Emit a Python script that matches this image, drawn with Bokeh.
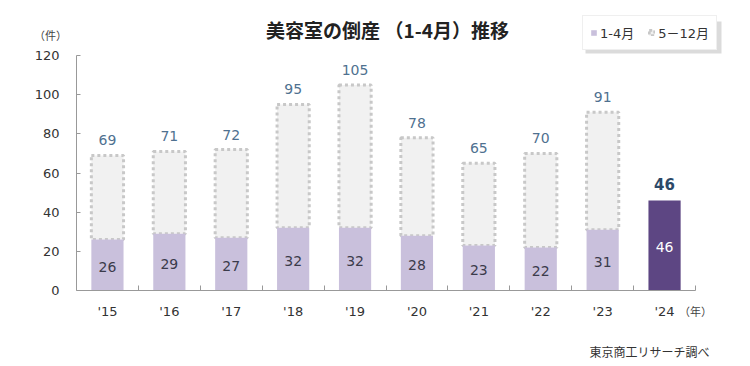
from bokeh.plotting import figure
from bokeh.models import (ColumnDataSource, LabelSet, Label, FixedTicker, Legend, LegendItem,
                          BoxAnnotation)
from bokeh.core.properties import value
from bokeh.embed import file_html
from bokeh.resources import INLINE

years = ["'15", "'16", "'17", "'18", "'19", "'20", "'21", "'22", "'23", "'24"]
jan_apr = [26, 29, 27, 32, 32, 28, 23, 22, 31, 46]
totals = [69, 71, 72, 95, 105, 78, 65, 70, 91, 46]
y_ticks = [0, 20, 40, 60, 80, 100, 120]

LIGHT = "#c9c0dc"
DARK = "#5d4683"
n = len(years)
xs = [i + 0.5 for i in range(n)]
colors = [LIGHT] * (n - 1) + [DARK]

src_low = ColumnDataSource(dict(x=xs, top=jan_apr, color=colors, label=[str(v) for v in jan_apr],
                                mid=[v / 2 for v in jan_apr],
                                tcolor=["#3b3b4b"] * (n - 1) + ["#ffffff"]))
up_idx = [i for i in range(n) if totals[i] > jan_apr[i]]
src_up = ColumnDataSource(dict(x=[xs[i] for i in up_idx], bottom=[jan_apr[i] for i in up_idx],
                               top=[totals[i] for i in up_idx], label=[str(totals[i]) for i in up_idx]))
last = n - 1
src_last = ColumnDataSource(dict(x=[xs[last]], top=[totals[last]], label=[str(totals[last])]))

# layout: the frame covers the whole canvas; axes are pinned at 0 with bounds
W, H = 750, 366
AX_L, AX_R, AX_T, AX_B = 76, 695, 55, 290   # pixel extent of the axes
YMAX = y_ticks[-1]
sx = (AX_R - AX_L) / n
sy = (AX_B - AX_T) / YMAX
x0, x1 = -AX_L / sx, n + (W - AX_R) / sx
y0, y1 = -(H - AX_B) / sy, YMAX + AX_T / sy


def px(v):
    return x0 + v / sx


def py(v):
    return y1 - v / sy


p = figure(width=W, height=H, output_backend="svg", toolbar_location=None,
           x_range=(x0, x1), y_range=(y0, y1),
           min_border=0, min_border_left=0, min_border_right=0, min_border_top=0, min_border_bottom=0)
p.outline_line_color = None
p.xgrid.grid_line_color = None
p.ygrid.grid_line_color = None
p.background_fill_color = "white"
p.border_fill_color = "white"

r_up = p.vbar(x="x", bottom="bottom", top="top", width=0.52, source=src_up,
              fill_color="#f1f1f1", line_color="#c8c8c8", line_width=3, line_dash="3 3")
r_low = p.vbar(x="x", top="top", bottom=0, width=0.52, source=src_low,
               fill_color="color", line_color=None)

NUMFONT = "DejaVu Sans"
JPFONT = "Noto Sans CJK JP"
MIXFONT = "DejaVu Sans, Noto Sans CJK JP"

p.add_layout(LabelSet(x="x", y="top", text="label", source=src_up, text_align="center",
                      text_baseline="bottom", y_offset=10, text_font=value(NUMFONT),
                      text_font_size=value("14px"), text_color=value("#4f7190")))
p.add_layout(LabelSet(x="x", y="top", text="label", source=src_last, text_align="center",
                      text_baseline="bottom", y_offset=10, text_font=value(NUMFONT),
                      text_font_style=value("bold"),
                      text_font_size=value("15px"), text_color=value("#2b4868")))
p.add_layout(LabelSet(x="x", y="mid", text="label", source=src_low, text_align="center",
                      text_baseline="middle", y_offset=-2, text_font=value(NUMFONT),
                      text_font_size=value("14px"), text_color="tcolor"))

# axes
xa = p.xaxis[0]
xa.fixed_location = 0
xa.bounds = (0, n)
xa.ticker = FixedTicker(ticks=xs, minor_ticks=list(range(1, n + 1)))
xa.major_label_overrides = {x: y for x, y in zip(xs, years)}
xa.major_tick_in = 0
xa.major_tick_out = 0
xa.minor_tick_in = 5
xa.minor_tick_out = 0
xa.minor_tick_line_color = "#999999"
xa.axis_line_color = "#999999"
xa.major_label_standoff = 13
xa.major_label_text_font = NUMFONT
xa.major_label_text_font_size = "13px"
xa.major_label_text_color = "#333333"

ya = p.yaxis[0]
ya.fixed_location = 0
ya.bounds = (0, YMAX)
ya.ticker = FixedTicker(ticks=y_ticks)
ya.minor_tick_line_color = None
ya.major_tick_in = 4
ya.major_tick_out = 0
ya.major_tick_line_color = "#999999"
ya.axis_line_color = "#999999"
ya.major_label_standoff = 17
ya.major_label_text_font = NUMFONT
ya.major_label_text_font_size = "13px"
ya.major_label_text_color = "#333333"

# texts
p.add_layout(Label(x=px(387), y=py(29), text="美容室の倒産 （1-4月）推移",
                   text_align="center", text_baseline="middle", text_font=JPFONT,
                   text_font_style="bold", text_font_size="19px", text_color="#222222"))
p.add_layout(Label(x=px(50), y=py(34), text="（件）",
                   text_align="center", text_baseline="middle", text_font=JPFONT,
                   text_font_size="11px", text_color="#444444"))
p.add_layout(Label(x=px(695), y=py(310), text="（年）",
                   text_align="center", text_baseline="middle", text_font=JPFONT,
                   text_font_size="11px", text_color="#444444"))
p.add_layout(Label(x=px(709), y=py(351), text="東京商工リサーチ調べ",
                   text_align="right", text_baseline="middle", text_font=JPFONT,
                   text_font_size="12px", text_color="#333333"))

# legend with a soft shadow
p.add_layout(BoxAnnotation(left=px(585), right=px(721), top=py(21), bottom=py(53),
                           fill_color="#b8b8b8", fill_alpha=0.5, line_color=None))
legend = Legend(items=[LegendItem(label="1-4月", renderers=[r_low], index=0),
                       LegendItem(label="5－12月", renderers=[r_up])],
                orientation="horizontal", location=(582, H - 50),
                label_text_font=MIXFONT, label_text_font_size="13px", label_text_color="#333333",
                glyph_width=7, glyph_height=7, label_standoff=3, spacing=14, label_height=18,
                padding=7, margin=0, border_line_color="#e0e0e0", border_line_width=1,
                background_fill_color="white", background_fill_alpha=1)
p.add_layout(legend, "center")

open("out.html", "w").write(file_html(p, INLINE))
